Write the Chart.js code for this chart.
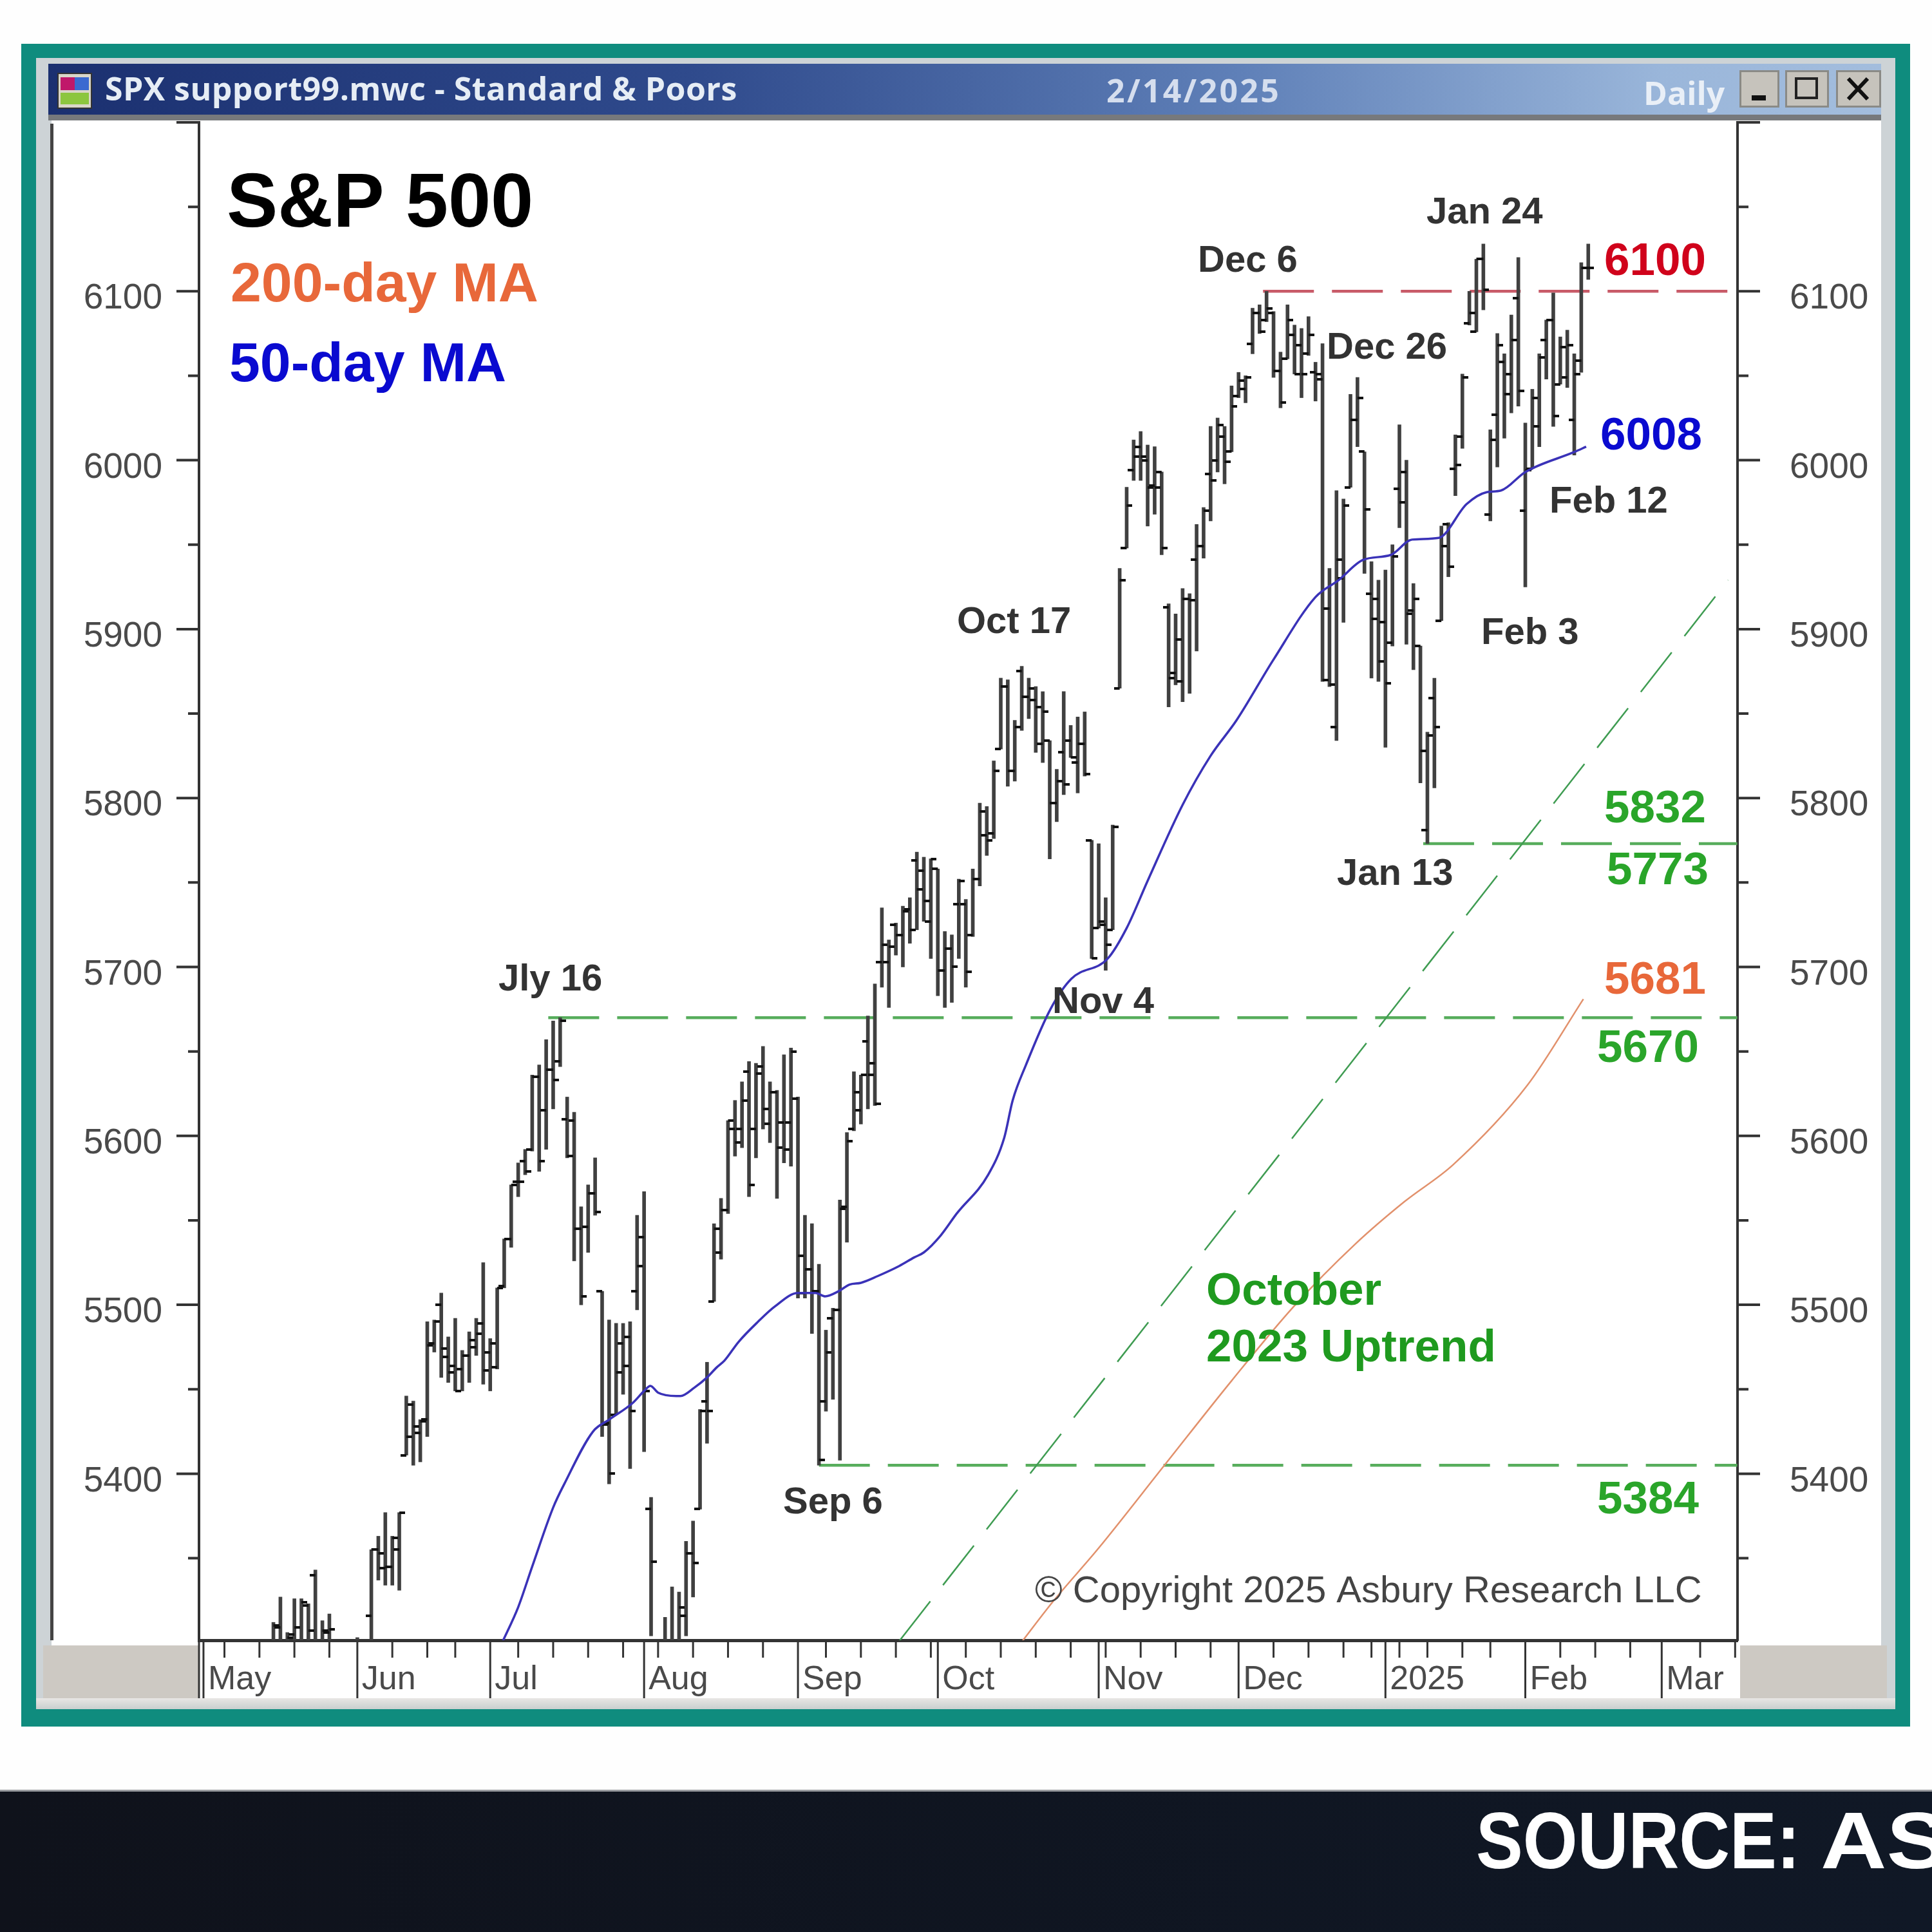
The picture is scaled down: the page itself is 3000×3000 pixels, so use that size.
<!DOCTYPE html>
<html>
<head>
<meta charset="utf-8">
<title>S&amp;P 500 daily chart</title>
<script src="https://cdn.jsdelivr.net/npm/chart.js@4/dist/chart.umd.min.js"></script>
<style>
    html, body { margin: 0; padding: 0; background: #fff; }
    #page { position: relative; width: 3000px; height: 3000px; overflow: hidden; background: #fefefe; }
    #page div { position: absolute; }
    canvas { position: absolute; left: 0; top: 0; }
    .caption { font: 700 50px "Open Sans", sans-serif; white-space: nowrap; }
    .winbtn { top: 109px; height: 58px; background: #c6c3bc; border: 3px solid #8a8a86; box-sizing: border-box; }
</style>
</head>
<body>
<div id="page">
    <!-- window frame -->
    <div style="left:33px;top:68px;width:2933px;height:2613px;background:#0f8c7e"></div>
    <div style="left:56px;top:90px;width:2887px;height:2564px;background:#cdd3d6"></div>
    <div style="left:75px;top:99px;width:2846px;height:79px;background:linear-gradient(90deg,#1b3070 0%,#2f4a8c 35%,#5f80b8 65%,#9ab6da 88%,#a3bddd 100%)"></div>
    <div style="left:75px;top:178px;width:2846px;height:9px;background:#77797c"></div>
    <div style="left:80px;top:187px;width:2841px;height:2450px;background:#fff"></div>
    <div style="left:78px;top:192px;width:5px;height:2355px;background:#444"></div>
    <div style="left:67px;top:2555px;width:242px;height:82px;background:#cdc9c3"></div>
    <div style="left:2702px;top:2555px;width:228px;height:82px;background:#cdc9c3"></div>
    <div style="left:56px;top:2637px;width:2887px;height:17px;background:linear-gradient(#e8e6e4,#c9cfce)"></div>

    <!-- title bar -->
    <div style="left:89px;top:113px;width:54px;height:56px;background:#d9d6c8;border:2px solid #333;box-sizing:border-box"></div>
    <div style="left:94px;top:120px;width:22px;height:20px;background:#c0186a"></div>
    <div style="left:116px;top:120px;width:22px;height:20px;background:#3b6ad0"></div>
    <div style="left:94px;top:144px;width:44px;height:18px;background:#8cc63f"></div>
    <div class="caption" style="left:163px;top:103px;color:#e6edf5;letter-spacing:.45px">SPX support99.mwc - Standard &amp; Poors</div>
    <div class="caption" style="left:1718px;top:106px;color:#d5deee;letter-spacing:3.3px">2/14/2025</div>
    <div class="caption" style="left:2552px;top:110px;color:#e9eff7">Daily</div>
    <div class="winbtn" style="left:2701px;width:62px"><div style="left:16px;top:36px;width:22px;height:8px;background:#111"></div></div>
    <div class="winbtn" style="left:2772px;width:68px"><div style="left:12px;top:8px;width:36px;height:34px;border:4px solid #222;box-sizing:border-box"></div></div>
    <div class="winbtn" style="left:2851px;width:70px">
        <svg width="64" height="52" style="position:absolute;left:0;top:0"><path d="M16 10 L46 42 M46 10 L16 42" stroke="#111" stroke-width="6"/></svg>
    </div>

    <!-- source strip -->
    <div style="left:0;top:2779px;width:3000px;height:221px;background:linear-gradient(90deg,#0f121b,#101826);border-top:3px solid #9a9ca0;box-sizing:border-box"></div>
    <div id="sourceText" style="left:2292px;top:2787px;font:700 124px 'Liberation Sans',sans-serif;color:#fff;white-space:nowrap;word-spacing:2px;transform:scaleX(.88);transform-origin:left top">SOURCE: <span style="display:inline-block;transform:scaleX(1.3);transform-origin:left top">ASBURY</span></div>

    <canvas id="spxChart" width="3000" height="3000"></canvas>
</div>

<script>
// Daily S&P 500 bars with moving averages and support/resistance levels

// bar number of the first entry in the price arrays (bar 0 is May 1, 2024)
const firstBar = 10;

const opens = [5295, 5309, 5300, 5305, 5299, 5322, 5340, 5290, 5306, 5280, 5255, 5245, 5285, 5275, 5316, 5355, 5344, 5345, 5355, 5411,
    5441, 5424, 5432, 5477, 5500, 5469, 5464, 5462, 5470, 5475, 5489, 5472, 5463, 5511, 5539, 5573, 5585, 5592, 5635, 5615,
    5639, 5644, 5610, 5609, 5545, 5546, 5566, 5508, 5430, 5435, 5477, 5481, 5508, 5540, 5379, 5150, 5250, 5290, 5252, 5316,
    5353, 5379, 5443, 5502, 5531, 5556, 5604, 5604, 5638, 5604, 5641, 5607, 5626, 5608, 5608, 5622, 5507, 5521, 5508, 5443,
    5492, 5497, 5558, 5604, 5615, 5656, 5643, 5703, 5703, 5725, 5719, 5734, 5763, 5757, 5727, 5758, 5698, 5711, 5737, 5737,
    5719, 5752, 5778, 5779, 5829, 5866, 5816, 5875, 5860, 5858, 5832, 5834, 5797, 5827, 5834, 5821, 5832, 5775, 5723, 5725,
    5722, 5865, 5948, 5994, 6008, 6000, 5985, 5993, 5913, 5874, 5869, 5918, 5941, 5949, 5992, 6000, 6014, 6005, 6038, 6042,
    6069, 6087, 6083, 6087, 6053, 6060, 6074, 6068, 6063, 6052, 6048, 5912, 5842, 5930, 5984, 6024, 6005, 5921, 5918, 5904,
    5892, 5983, 5993, 5911, 5890, 5781, 5859, 5905, 5962, 5995, 6014, 6081, 6076, 6119, 5968, 6027, 6058, 6051, 6096, 5970,
    5995, 6020, 6071, 6083, 6045, 6049, 6024, 6059, 6114];

const highs = [5312, 5327, 5306, 5326, 5326, 5323, 5343, 5313, 5317, 5290, 5270, 5280, 5303, 5296, 5355, 5363, 5377, 5363, 5377, 5446,
    5443, 5432, 5490, 5491, 5507, 5481, 5492, 5473, 5484, 5492, 5525, 5480, 5510, 5539, 5571, 5584, 5592, 5636, 5642, 5657,
    5668, 5670, 5623, 5614, 5558, 5571, 5587, 5508, 5491, 5489, 5489, 5490, 5553, 5567, 5386, 5295, 5315, 5333, 5330, 5360,
    5372, 5438, 5466, 5548, 5563, 5609, 5621, 5632, 5644, 5643, 5653, 5632, 5627, 5648, 5652, 5623, 5553, 5548, 5524, 5485,
    5498, 5562, 5602, 5638, 5636, 5671, 5690, 5735, 5716, 5726, 5736, 5741, 5768, 5765, 5764, 5758, 5721, 5719, 5752, 5740,
    5758, 5797, 5795, 5822, 5871, 5870, 5846, 5878, 5871, 5866, 5863, 5834, 5817, 5863, 5843, 5848, 5851, 5775, 5773, 5741,
    5784, 5936, 5984, 6012, 6017, 6009, 6008, 5993, 5915, 5909, 5924, 5921, 5962, 5972, 6020, 6025, 6020, 6044, 6052, 6050,
    6090, 6092, 6100, 6088, 6064, 6092, 6080, 6078, 6085, 6058, 6069, 5936, 5982, 5977, 6039, 6049, 6005, 5940, 5929, 5935,
    5950, 6021, 6000, 5927, 5890, 5839, 5871, 5961, 5963, 6015, 6051, 6100, 6119, 6128, 6018, 6075, 6063, 6086, 6120, 6022,
    6042, 6063, 6083, 6099, 6073, 6077, 6063, 6117, 6128];

const lows = [5290, 5297, 5292, 5298, 5296, 5290, 5265, 5278, 5285, 5250, 5225, 5190, 5235, 5265, 5297, 5337, 5334, 5334, 5331, 5411,
    5405, 5407, 5422, 5472, 5457, 5454, 5449, 5449, 5454, 5470, 5453, 5449, 5462, 5510, 5534, 5564, 5577, 5591, 5579, 5592,
    5616, 5641, 5587, 5526, 5500, 5531, 5553, 5422, 5394, 5435, 5447, 5403, 5497, 5413, 5304, 5120, 5200, 5195, 5250, 5304,
    5327, 5379, 5418, 5502, 5527, 5554, 5588, 5593, 5564, 5587, 5604, 5596, 5563, 5584, 5582, 5504, 5504, 5483, 5405, 5437,
    5444, 5408, 5537, 5603, 5607, 5616, 5618, 5688, 5676, 5707, 5700, 5714, 5722, 5727, 5705, 5683, 5676, 5679, 5705, 5688,
    5718, 5748, 5766, 5776, 5829, 5807, 5810, 5840, 5847, 5827, 5821, 5764, 5786, 5802, 5824, 5803, 5813, 5705, 5723, 5698,
    5722, 5865, 5948, 5988, 5988, 5961, 5968, 5944, 5854, 5867, 5857, 5862, 5887, 5942, 5964, 5993, 5986, 6005, 6037, 6034,
    6063, 6075, 6082, 6049, 6031, 6060, 6051, 6037, 6062, 6035, 5869, 5866, 5834, 5904, 5984, 6008, 5933, 5871, 5869, 5830,
    5890, 5960, 5891, 5876, 5809, 5773, 5806, 5905, 5931, 5979, 6007, 6080, 6076, 6089, 5964, 5996, 6013, 6028, 6032, 5925,
    5995, 6008, 6048, 6020, 6045, 6043, 6003, 6052, 6107];

const closes = [5310, 5298, 5303, 5309, 5324, 5307, 5270, 5307, 5308, 5266, 5235, 5277, 5283, 5291, 5355, 5353, 5345, 5362, 5377, 5422,
    5428, 5431, 5476, 5490, 5474, 5460, 5449, 5470, 5479, 5483, 5461, 5477, 5510, 5539, 5571, 5573, 5579, 5635, 5585, 5639,
    5633, 5668, 5588, 5545, 5505, 5566, 5555, 5429, 5400, 5460, 5464, 5437, 5523, 5449, 5348, 5186, 5240, 5205, 5321, 5353,
    5347, 5437, 5437, 5545, 5556, 5609, 5596, 5621, 5571, 5637, 5616, 5626, 5593, 5592, 5650, 5529, 5521, 5508, 5408, 5472,
    5497, 5557, 5597, 5626, 5636, 5636, 5619, 5713, 5712, 5719, 5733, 5722, 5746, 5739, 5764, 5698, 5711, 5700, 5751, 5697,
    5752, 5792, 5775, 5816, 5866, 5816, 5842, 5860, 5865, 5854, 5851, 5797, 5810, 5808, 5824, 5832, 5814, 5705, 5727, 5713,
    5783, 5929, 5973, 6002, 6002, 5984, 5984, 5948, 5871, 5894, 5918, 5917, 5949, 5970, 5988, 6021, 5999, 6032, 6047, 6049,
    6087, 6076, 6090, 6053, 6034, 6083, 6051, 6051, 6074, 6051, 5870, 5867, 5941, 5973, 6024, 6037, 5971, 5906, 5881, 5868,
    5943, 5975, 5909, 5918, 5828, 5837, 5842, 5949, 5937, 5997, 6049, 6087, 6119, 6101, 6012, 6068, 6039, 6071, 6041, 5994,
    6037, 6061, 6083, 6026, 6067, 6068, 6051, 6114, 6114];

// 50-day moving average
const ma50Bars = [42.7, 45, 47, 50, 51.6, 55.7, 58, 61.4, 63, 63.9, 65, 67.6, 68.2, 70.2, 72, 73.4, 74.5, 76.5, 79.3, 81.7, 85, 87.5, 88.9, 90.8, 92.4, 94, 96.4, 99.5, 101.6, 103, 105.4, 107.7, 112.2, 114.5, 115.7, 117.6, 121.1, 124.1, 129.3, 132, 135, 140, 144, 147.7, 153, 159, 162.3, 165.8, 169.8, 172.8, 176.6, 180.6, 183.4, 185.5, 189, 196.1, 197.7];
const ma50Values = [5300, 5321, 5345, 5380, 5394, 5425, 5432, 5442, 5449, 5452, 5448, 5446, 5446, 5451, 5457, 5463, 5467, 5478, 5490, 5499, 5507, 5507, 5505, 5508, 5512, 5513, 5517, 5523, 5528, 5531, 5541, 5554, 5577, 5599, 5621, 5642, 5675, 5693, 5705, 5723, 5751, 5796, 5825, 5846, 5882, 5919, 5929, 5941, 5944, 5953, 5954, 5974, 5981, 5982, 5993, 6005, 6008];

// 200-day moving average
const ma200Bars = [117.1, 121.4, 128, 137.4, 147, 155.9, 164.7, 171.7, 178.7, 189.3, 197.3];
const ma200Values = [5301, 5324, 5356, 5405, 5455, 5499, 5536, 5561, 5583, 5630, 5681];

// October 2023 uptrend line
const trendBars = [99.5, 218];
const trendValues = [5301, 5929];

// horizontal levels and the bar each one starts from
const levelValues = [6100, 5773, 5670, 5405];
const levelStartBars = [151.5, 174.4, 49.3, 88];
const levelEndBars = [219, 219.3, 219.3, 219.3];
const levelColors = ['#c85a68', '#57ad5c', '#57ad5c', '#57ad5c'];

// axis labels
const priceTickValues = [5350, 5400, 5450, 5500, 5550, 5600, 5650, 5700, 5750, 5800, 5850, 5900, 5950, 6000, 6050, 6100, 6150, 6200];
const priceLabels = [5400, 5500, 5600, 5700, 5800, 5900, 6000, 6100];
const monthLabels = ['May', 'Jun', 'Jul', 'Aug', 'Sep', 'Oct', 'Nov', 'Dec', '2025', 'Feb', 'Mar'];
const monthBars = [0, 22, 41, 63, 85, 105, 128, 148, 169, 189, 208.5];
const weekBars = [3, 8, 13, 18, 27, 32, 36, 45, 50, 55, 60, 65, 70, 75, 80, 89, 94, 99, 104, 109, 114, 119, 124, 129, 134, 139, 144, 153, 158, 163, 167, 171, 175, 180, 184, 194, 199, 204, 214, 219];

const FONT = '"Liberation Sans", Arial, sans-serif';
const AXIS_COLOR = '#333';

// text written on top of the plot
const callouts = [
    { text: 'S&P 500', x: 352, y: 352, size: 119, color: '#000' },
    { text: '200-day MA', x: 358, y: 468, size: 86, color: '#e8683a' },
    { text: '50-day MA', x: 356, y: 592, size: 86, color: '#0a0ad0' },
    { text: 'Jan 24', x: 2215, y: 347, size: 58, color: '#333' },
    { text: 'Dec 6', x: 1860, y: 422, size: 58, color: '#333' },
    { text: 'Dec 26', x: 2060, y: 557, size: 58, color: '#333' },
    { text: 'Feb 12', x: 2406, y: 796, size: 58, color: '#333' },
    { text: 'Feb 3', x: 2300, y: 1000, size: 58, color: '#333' },
    { text: 'Oct 17', x: 1486, y: 983, size: 58, color: '#333' },
    { text: 'Jan 13', x: 2076, y: 1374, size: 58, color: '#333' },
    { text: 'Jly 16', x: 774, y: 1538, size: 58, color: '#333' },
    { text: 'Nov 4', x: 1634, y: 1573, size: 58, color: '#333' },
    { text: 'Sep 6', x: 1216, y: 2350, size: 58, color: '#333' },
    { text: '6100', x: 2491, y: 427, size: 71, color: '#d0021b' },
    { text: '6008', x: 2485, y: 698, size: 71, color: '#0a0ad0' },
    { text: '5832', x: 2491, y: 1277, size: 71, color: '#2aa52a' },
    { text: '5773', x: 2495, y: 1373, size: 71, color: '#2aa52a' },
    { text: '5681', x: 2491, y: 1543, size: 71, color: '#e8683a' },
    { text: '5670', x: 2480, y: 1649, size: 71, color: '#2aa52a' },
    { text: '5384', x: 2480, y: 2350, size: 71, color: '#2aa52a' },
    { text: 'October', x: 1873, y: 2026, size: 71, color: '#1f9a1f' },
    { text: '2023 Uptrend', x: 1873, y: 2114, size: 71, color: '#1f9a1f' },
    { text: '\u00a9 Copyright 2025 Asbury Research LLC', x: 1607, y: 2488, size: 58, color: '#444', weight: 'normal' }
];

// small canvas used as the point image for an open (left) or close (right) tick
function makeTickImage(side) {
    const img = document.createElement('canvas');
    img.width = 18;
    img.height = 4;
    const c = img.getContext('2d');
    c.fillStyle = '#111';
    c.fillRect(side === 'left' ? 0 : 9, 0, 9, 4);
    return img;
}

function pointsFrom(bars, values) {
    return bars.map((bar, i) => ({ x: bar, y: values[i] }));
}

const hlPoints = highs.map((h, i) => ({ x: firstBar + i, y: [lows[i], h] }));
const openPoints = opens.map((v, i) => ({ x: firstBar + i, y: v }));
const closePoints = closes.map((v, i) => ({ x: firstBar + i, y: v }));

function lineSet(points, color, width, dash, order, smooth) {
    return {
        type: 'line',
        data: points,
        borderColor: color,
        borderWidth: width,
        borderDash: dash,
        pointRadius: 0,
        cubicInterpolationMode: smooth ? 'monotone' : 'default',
        tension: 0,
        fill: false,
        clip: 0,
        order: order
    };
}

const levelSets = levelValues.map((v, i) =>
    lineSet([{ x: levelStartBars[i], y: v }, { x: levelEndBars[i], y: v }], levelColors[i], 4.5, [79, 28], 5));

// tick marks on both price axes and on the time axis
const tickMarks = {
    id: 'tickMarks',
    afterDatasetsDraw(chart) {
        const { ctx, chartArea, scales } = chart;
        ctx.save();
        ctx.strokeStyle = AXIS_COLOR;
        ctx.lineWidth = 4;
        scales.y.ticks.forEach(t => {
            const y = scales.y.getPixelForValue(t.value);
            const major = t.value % 100 === 0;
            ctx.beginPath();
            ctx.moveTo(chartArea.left, y);
            ctx.lineTo(chartArea.left - (major ? 35 : 17), y);
            ctx.moveTo(chartArea.right, y);
            ctx.lineTo(chartArea.right + (major ? 35 : 17), y);
            ctx.stroke();
        });
        ctx.lineWidth = 3;
        weekBars.forEach(bar => {
            const x = scales.x.getPixelForValue(bar);
            ctx.beginPath();
            ctx.moveTo(x, chartArea.bottom);
            ctx.lineTo(x, chartArea.bottom + 27);
            ctx.stroke();
        });
        monthBars.concat(scales.x.min).forEach(bar => {
            const x = scales.x.getPixelForValue(bar);
            ctx.beginPath();
            ctx.moveTo(x, chartArea.bottom);
            ctx.lineTo(x, chartArea.bottom + 90);
            ctx.stroke();
        });
        ctx.restore();
    }
};

const calloutText = {
    id: 'calloutText',
    afterDraw(chart) {
        const ctx = chart.ctx;
        ctx.save();
        ctx.textBaseline = 'alphabetic';
        ctx.textAlign = 'left';
        callouts.forEach(c => {
            ctx.font = (c.weight || 'bold') + ' ' + c.size + 'px ' + FONT;
            ctx.fillStyle = c.color;
            ctx.fillText(c.text, c.x, c.y);
        });
        ctx.restore();
    }
};

const priceTicks = {
    color: '#4a4a4a',
    font: { family: FONT, size: 55 },
    autoSkip: false,
    labelOffset: 12,
    callback: v => priceLabels.includes(v) ? String(v) : ''
};

function setPriceTicks(scale) {
    scale.ticks = priceTickValues.map(value => ({ value }));
}

new Chart(document.getElementById('spxChart'), {
    type: 'bar',
    data: {
        datasets: [
            { type: 'bar', data: hlPoints, backgroundColor: '#404040', barThickness: 5, grouped: false, order: 3 },
            { type: 'line', data: openPoints, showLine: false, pointStyle: makeTickImage('left'), pointRadius: 5, clip: 0, order: 2 },
            { type: 'line', data: closePoints, showLine: false, pointStyle: makeTickImage('right'), pointRadius: 5, clip: 0, order: 2 },
            lineSet(pointsFrom(ma50Bars, ma50Values), '#3a32b8', 3.5, [], 1, true),
            lineSet(pointsFrom(ma200Bars, ma200Values), '#e2916c', 2.5, [], 1, true),
            lineSet(pointsFrom(trendBars, trendValues), '#3f9c52', 2.5, [78, 32], 4),
            ...levelSets
        ]
    },
    options: {
        responsive: false,
        devicePixelRatio: 1,
        animation: false,
        events: [],
        layout: { padding: { top: 190, left: 0, right: 0, bottom: 0 } },
        plugins: { legend: { display: false }, tooltip: { enabled: false } },
        scales: {
            x: {
                type: 'linear',
                offset: false,
                min: -0.64,
                max: 219.34,
                grid: { display: false, drawTicks: false },
                border: { display: true, color: AXIS_COLOR, width: 5 },
                afterBuildTicks(scale) {
                    scale.ticks = monthBars.map(value => ({ value }));
                },
                afterFit(scale) {
                    scale.height = 453;
                },
                ticks: {
                    color: '#4a4a4a',
                    font: { family: FONT, size: 52 },
                    align: 'start',
                    autoSkip: false,
                    maxRotation: 0,
                    padding: 30,
                    labelOffset: 7,
                    callback: v => monthLabels[monthBars.indexOf(v)]
                }
            },
            y: {
                position: 'left',
                min: 5301.4,
                max: 6200,
                grid: { display: false, drawTicks: false },
                border: { display: true, color: AXIS_COLOR, width: 4 },
                afterBuildTicks: setPriceTicks,
                afterFit(scale) {
                    scale.width = 309;
                },
                ticks: { ...priceTicks, padding: 57 }
            },
            yRight: {
                axis: 'y',
                position: 'right',
                min: 5301.4,
                max: 6200,
                grid: { display: false, drawTicks: false },
                border: { display: true, color: AXIS_COLOR, width: 4 },
                afterBuildTicks: setPriceTicks,
                afterFit(scale) {
                    scale.width = 302;
                },
                ticks: { ...priceTicks, padding: 81 }
            }
        }
    },
    plugins: [tickMarks, calloutText]
});
</script>
</body>
</html>
